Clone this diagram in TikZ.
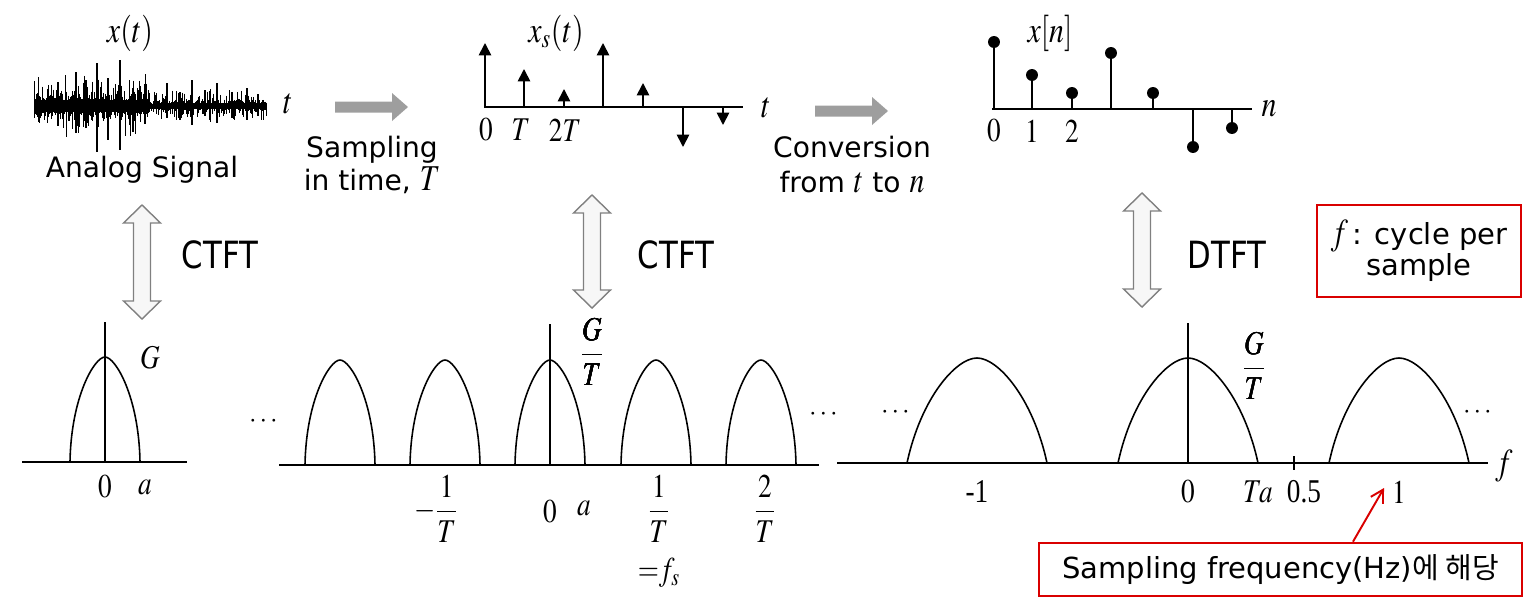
\documentclass[tikz,border=0pt]{standalone}
\usepackage{amsmath}
\usepackage{graphicx}
\usepackage{mathptmx}
\usepackage{fontspec}
\setmainfont{Liberation Serif}
\newfontfamily\uifont{DejaVu Sans}
\newfontfamily\krfont{Noto Sans CJK KR}
\usetikzlibrary{arrows.meta}

% the slide is stretched a little in height
\newcommand{\vt}[1]{\scalebox{1}[1.22]{#1}}
% arch of a spectrum: centre, half width, base, height, side factor
\newcommand{\specbump}[5]{%
  \draw[spec] (#1-#2,#3) .. controls (#1-#2+#5*#2,#3-0.62*#4) and (#1-0.3*#2,#3-#4) .. (#1,#3-#4)
    .. controls (#1+0.3*#2,#3-#4) and (#1+#2-#5*#2,#3-0.62*#4) .. (#1+#2,#3);}
% hollow double arrow: x, top, bottom
\newcommand{\tfarrow}[3]{%
  \draw[tfshape] (#1,#2) -- (#1+18.5,#2+18) -- (#1+8.5,#2+18) -- (#1+8.5,#3-18) -- (#1+18.5,#3-18)
    -- (#1,#3) -- (#1-18.5,#3-18) -- (#1-8.5,#3-18) -- (#1-8.5,#2+18) -- (#1-18.5,#2+18) -- cycle;}
% grey block arrow: x start, x end, y
\newcommand{\grayarrow}[3]{%
  \fill[blockarr] (#1,#3-5.5) -- (#2-16,#3-5.5) -- (#2-16,#3-14) -- (#2,#3) -- (#2-16,#3+14)
    -- (#2-16,#3+5.5) -- (#1,#3+5.5) -- cycle;}

\begin{document}
\begin{tikzpicture}[x=0.02cm,y=-0.02cm,
    axis/.style={line width=1.1pt},
    spec/.style={line width=0.9pt},
    noise/.style={line width=0.45pt},
    imp/.style={line width=1pt,-{Triangle[length=7pt,width=7pt]}},
    stem/.style={line width=1pt},
    mlabel/.style={font=\fontsize{15.5}{18}\selectfont,inner sep=0pt},
    tlabel/.style={font=\fontsize{17}{20}\selectfont,inner sep=0pt},
    ui/.style={font=\uifont\fontsize{16}{19}\selectfont,inner sep=0pt},
    tfshape/.style={draw=black!50,fill=black!3,line width=0.8pt,line join=miter},
    blockarr/.style={fill=black!38},
    redbox/.style={draw=red!85!black,line width=1.5pt,inner sep=0pt},
    redarr/.style={draw=red!85!black,line width=1.1pt,-{Straight Barb[length=7pt,width=8pt]}}]
            \useasboundingbox (0,0) rectangle (1528,609);

            % analog signal
            \draw[green!55!black!60,line width=0.8pt] (34,106) -- (267,106);
            \pgfmathsetseed{11}
            \foreach \i in {0,...,232}{
                \pgfmathsetmacro{\xx}{34+\i*1.0}
                \pgfmathsetmacro{\amp}{\xx<150 ? 19 : 11}
                \pgfmathsetmacro{\bs}{\xx<150 ? 6 : 2.5}
                \pgfmathsetmacro{\yu}{106-\bs-\amp*rnd*rnd*1.6}
                \pgfmathsetmacro{\yd}{106+\bs+\amp*rnd*rnd*1.4}
                \draw[noise] (\xx,\yu) -- (\xx,\yd);
            }
            \foreach \sx/\su/\sd in {58/82/126,76/72/133,86/80/128,97/63/152,108/78/140,120/60/150,133/88/132,
                                     145/84/124,167/83/118,180/92/120,192/80/125,205/90/116,217/83/123,232/92/118,
                                     247/88/120,258/94/116}
                \draw[noise,line width=0.6pt] (\sx,\su) -- (\sx,\sd);
            \node[tlabel] (xt) at (130,33) {\vt{$x(t)$}};
            \node[tlabel] (tax1) at (288,104) {\vt{$t$}};
            \node[ui,anchor=base] (analog) at (142,177) {Analog Signal};

            \grayarrow{335}{408}{107}
            \node[ui,anchor=base] (samp1) at (372,157) {Sampling};
            \node[ui,anchor=base] (samp2) at (372,190) {in time, {\fontsize{17}{17}\selectfont\vt{$T$}}};

            % sampled signal
            \draw[axis] (484,107) -- (743,107);
            \foreach \x/\y in {485/43,524/69,564/89,603/43,643/83,683/147,723/125}
                \draw[imp] (\x,107) -- (\x,\y);
            \node[tlabel] (xst) at (556,33) {\vt{$x_s(t)$}};
            \node[mlabel] (s0) at (486,130) {\vt{$0$}};
            \node[mlabel] (s1) at (521,130) {\vt{$T$}};
            \node[mlabel] (s2) at (565,130) {\vt{$2T$}};
            \node[tlabel] (tax2) at (766,108) {\vt{$t$}};

            \grayarrow{815}{888}{111}
            \node[ui,anchor=base] (conv1) at (852,157) {Conversion};
            \node[ui,anchor=base] (conv2) at (852,192)
                {from {\fontsize{17}{17}\selectfont\vt{$t$}} to {\fontsize{17}{17}\selectfont\vt{$n$}}};

            % discrete signal
            \draw[axis] (992,109) -- (1252,109);
            \foreach \x/\y in {994/42,1032/75,1072/93,1111/53,1153/93,1193/147,1232/128}{
                \draw[stem] (\x,109) -- (\x,\y);
                \fill (\x,\y) circle (3.4pt);
            }
            \node[tlabel] (xn) at (1050,33) {\vt{$x[n]$}};
            \node[mlabel] (n0) at (994,131) {\vt{$0$}};
            \node[mlabel] (n1) at (1032,131) {\vt{$1$}};
            \node[mlabel] (n2) at (1072,131) {\vt{$2$}};
            \node[tlabel] (nax) at (1269,109) {\vt{$n$}};

            % transforms
            \tfarrow{142}{205}{319}
            \tfarrow{592}{195}{308}
            \tfarrow{1142}{193}{307}
            \node[ui,font=\uifont\fontsize{17.5}{20}\selectfont,anchor=base] (ctft1) at (220,268) {\vt{CTFT}};
            \node[ui,font=\uifont\fontsize{17.5}{20}\selectfont,anchor=base] (ctft2) at (676,268) {\vt{CTFT}};
            \node[ui,font=\uifont\fontsize{17.5}{20}\selectfont,anchor=base] (dtft) at (1227,268) {\vt{DTFT}};
            \node[redbox,minimum width=4.08cm,minimum height=1.84cm,align=center,
                  font=\uifont\fontsize{16.5}{15.5}\selectfont] (cycbox) at (1419,251)
                  {{\fontsize{17}{17}\selectfont\vt{$f$}\,}: cycle per\\sample};

            % spectrum of x(t)
            \draw[axis] (22,462) -- (187,462);
            \draw[spec] (105,462) -- (105,322);
            \specbump{105}{35}{462}{105}{0.03}
            \node[mlabel] (g1) at (150,358) {\vt{$G$}};
            \node[mlabel] (f10) at (105,487) {\vt{$0$}};
            \node[mlabel] (f1a) at (145,487) {\vt{$a$}};

            % spectrum of xs(t)
            \draw[axis] (279,465) -- (819,465);
            \draw[spec] (550,465) -- (550,324);
            \foreach \c in {340,445,550,656,761}
                \specbump{\c}{35}{465}{105}{0.03}
            \node[mlabel] (g2) at (592,352) {\vt{$\dfrac{G}{T}$}};
            \node[mlabel] (dl2) at (265,422) {$\cdots$};
            \node[mlabel] (dr2) at (825,415) {$\cdots$};
            \node[mlabel] (fm1) at (436,509) {\vt{$-\dfrac{1}{T}$}};
            \node[mlabel] (f20) at (550,512) {\vt{$0$}};
            \node[mlabel] (f2a) at (584,508) {\vt{$a$}};
            \node[mlabel] (fp1) at (659,509) {\vt{$\dfrac{1}{T}$}};
            \node[mlabel] (fs) at (659,573) {\vt{${=}f_s$}};
            \node[mlabel] (fp2) at (765,509) {\vt{$\dfrac{2}{T}$}};

            % spectrum of x[n]
            \draw[axis] (837,463) -- (1488,463);
            \draw[spec] (1188,463) -- (1188,323);
            \draw[spec] (1294,456) -- (1294,470);
            \foreach \c in {977,1188,1399}
                \specbump{\c}{70}{463}{105}{0.2}
            \node[mlabel] (g3) at (1254,366) {\vt{$\dfrac{G}{T}$}};
            \node[mlabel] (dl3) at (897,413) {$\cdots$};
            \node[mlabel] (dr3) at (1479,413) {$\cdots$};
            \node[mlabel] (d30) at (977,492) {\vt{-1}};
            \node[mlabel] (d31) at (1188,492) {\vt{$0$}};
            \node[mlabel] (d3t) at (1258,492) {\vt{$Ta$}};
            \node[mlabel] (d3h) at (1304,492) {\vt{0.5}};
            \node[mlabel] (d3o) at (1399,492) {\vt{$1$}};
            \node[tlabel] (fax) at (1504,466) {\vt{$f$}};

            \node[redbox,minimum width=9.66cm,minimum height=1.06cm,
                  font=\uifont\fontsize{16.5}{19}\selectfont] (hzbox) at (1280.5,569.5)
                  {Sampling frequency(Hz){\krfont 에 해당}};
            \coordinate (onehz) at (1384,488);
            \draw[redarr] ([xshift=1.45cm]hzbox.north) -- (onehz);
        \end{tikzpicture}
\end{document}
